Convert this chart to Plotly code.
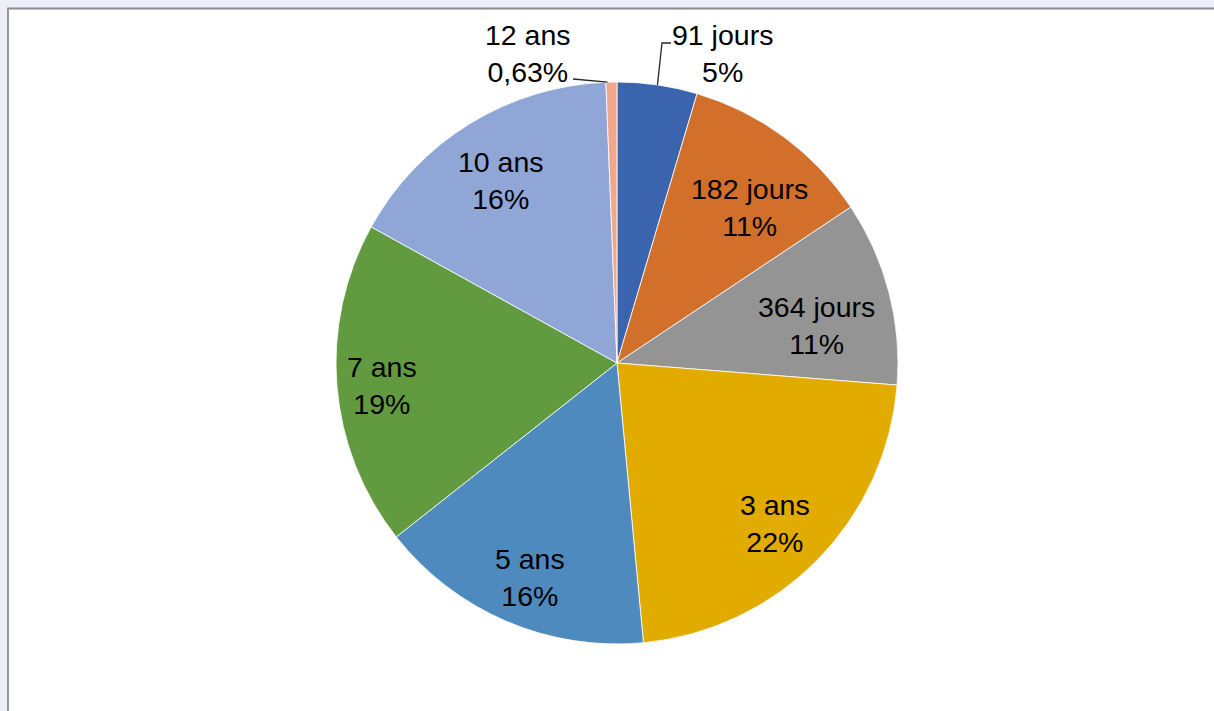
import math
import plotly.graph_objects as go

# ---- data ----
labels = ["91 jours", "182 jours", "364 jours", "3 ans", "5 ans", "7 ans", "10 ans", "12 ans"]
values = [4.6, 11.04, 10.61, 22.25, 15.88, 18.67, 16.32, 0.63]
pct_text = ["5%", "11%", "11%", "22%", "16%", "19%", "16%", "0,63%"]

# ---- style / layout ----
colors = ["#3A64AD", "#D26F2A", "#949494", "#E2AB00", "#4F8ABE", "#629B3F", "#8FA6D7", "#F1A78B"]
W, H = 1214, 711
cx, cy, R = 617, 363, 281
# label centres in pixels (layout positions, one per slice)
label_px = [(722, 54), (749, 207), (816, 325), (775, 523), (530, 577), (382, 385), (501, 180), (528, 54)]
FONT = dict(family="Liberation Sans, Arial, sans-serif", size=28.5, color="black")


def to_paper(px, py):
    return px / W, 1 - py / H


def edge_point(i):
    """Point on the pie rim at the bisector of slice i (computed from the data)."""
    total = sum(values)
    start = sum(values[:i]) / total
    mid = (start + values[i] / total / 2) * 2 * math.pi
    return cx + R * math.sin(mid), cy - R * math.cos(mid)


fig = go.Figure(go.Pie(
    labels=labels,
    values=values,
    textinfo="none",
    sort=False,
    direction="clockwise",
    rotation=0,
    marker=dict(colors=colors, line=dict(color="white", width=0.8)),
    domain=dict(x=[(cx - R) / W, (cx + R) / W], y=[1 - (cy + R) / H, 1 - (cy - R) / H]),
    showlegend=False,
    hoverinfo="label+percent",
))

annotations = []
for lab, pt, (px, py) in zip(labels, pct_text, label_px):
    x, y = to_paper(px, py)
    annotations.append(dict(x=x, y=y, xref="paper", yref="paper", text=f"{lab}<br>{pt}",
                            showarrow=False, font=FONT, align="center",
                            xanchor="center", yanchor="middle"))


def path(points):
    s = ""
    for k, (px, py) in enumerate(points):
        x, y = to_paper(px, py)
        s += ("M" if k == 0 else "L") + f"{x:.5f},{y:.5f} "
    return s.strip()


ex0, ey0 = edge_point(0)   # 91 jours
ex7, ey7 = edge_point(7)   # 12 ans
shapes = [
    dict(type="rect", xref="paper", yref="paper",
         x0=8 / W, x1=1.05, y0=-0.05, y1=1 - 8.5 / H,
         fillcolor="white", line=dict(color="#8C8C8C", width=1.8), layer="below"),
    dict(type="path", xref="paper", yref="paper",
         path=path([(671, 43), (662, 43), (ex0, ey0)]),
         line=dict(color="#262626", width=1.3)),
    dict(type="path", xref="paper", yref="paper",
         path=path([(573, 79), (ex7 - 4, ey7)]),
         line=dict(color="#262626", width=1.3)),
]

fig.update_layout(
    width=W, height=H,
    margin=dict(l=0, r=0, t=0, b=0),
    paper_bgcolor="#ECEFF7",
    shapes=shapes,
    annotations=annotations,
)

fig.write_html("out.html", config={"displayModeBar": False},
               post_script="document.body.style.margin='0px';document.body.style.overflow='hidden';")
